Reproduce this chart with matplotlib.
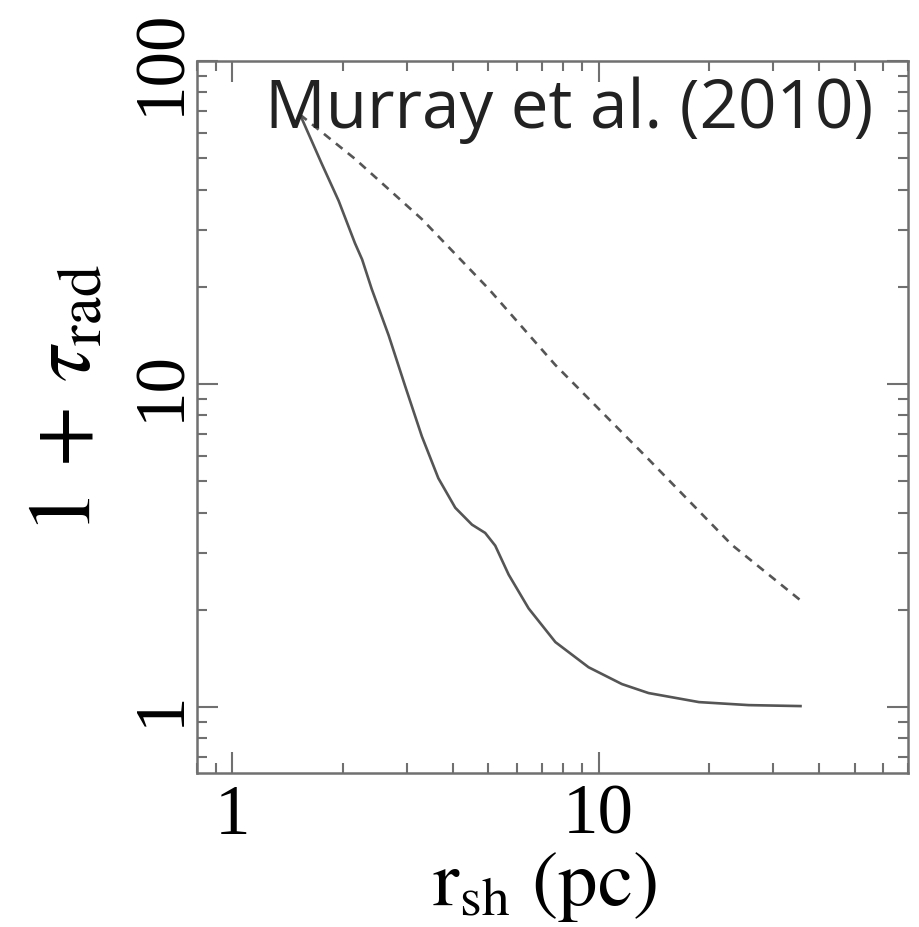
import matplotlib
matplotlib.use("Agg")
import matplotlib.pyplot as plt
from matplotlib.ticker import LogLocator, FuncFormatter, NullFormatter

# Shell radius (pc) and 1 + tau_rad for the two model curves
r_solid = [1.53, 1.75, 1.95, 2.16, 2.26, 2.40, 2.67, 2.96, 3.29, 3.65, 4.06, 4.51,
           4.90, 5.22, 5.68, 6.44, 7.62, 9.39, 11.58, 13.69, 18.8, 25.7, 35.6]
tau_solid = [68.2, 48.3, 36.9, 27.3, 24.3, 19.7, 14.15, 9.88, 6.89, 5.11, 4.14, 3.67,
             3.46, 3.16, 2.57, 2.02, 1.589, 1.328, 1.178, 1.105, 1.036, 1.014, 1.007]

r_dash = [1.53, 2.16, 3.29, 5.01, 7.62, 13.69, 23.1, 35.6]
tau_dash = [68.2, 49.8, 32.4, 19.7, 11.45, 5.85, 3.18, 2.14]

x_range = (0.8, 70)
y_range = (0.625, 100)

plt.rcParams["mathtext.fontset"] = "stix"

W, H = 919, 928
fig = plt.figure(figsize=(W / 100, H / 100), dpi=100)
ax = fig.add_axes([197 / W, 1 - 774 / H, (908 - 197) / W, (774 - 62) / H])

line_col = "#555555"
ax.plot(r_solid, tau_solid, color=line_col, lw=1.9, solid_joinstyle="round")
ax.plot(r_dash, tau_dash, color=line_col, lw=1.9, dashes=(3.2, 2.6))

ax.set_xscale("log")
ax.set_yscale("log")
ax.set_xlim(*x_range)
ax.set_ylim(*y_range)

frame_col = "#707070"
for sp in ax.spines.values():
    sp.set_color(frame_col)
    sp.set_linewidth(1.8)

fmt = FuncFormatter(lambda v, p: "%g" % v)
for axis in (ax.xaxis, ax.yaxis):
    axis.set_major_locator(LogLocator(base=10))
    axis.set_minor_locator(LogLocator(base=10, subs=range(2, 10)))
    axis.set_major_formatter(fmt)
    axis.set_minor_formatter(NullFormatter())

ax.tick_params(which="both", direction="in", top=True, right=True,
               color=frame_col, width=1.5)
ax.tick_params(which="major", length=15)
ax.tick_params(which="minor", length=7.5)
ax.tick_params(axis="x", which="major", pad=7, labelsize=51)
ax.tick_params(axis="y", which="major", pad=2, labelsize=51, labelrotation=90)
for lab in ax.get_xticklabels() + ax.get_yticklabels():
    lab.set_fontfamily("Liberation Serif")
for lab in ax.get_yticklabels():
    lab.set_verticalalignment("center")

ax.text(0.951, 0.907, "Murray et al. (2010)", transform=ax.transAxes,
        ha="right", va="baseline", fontsize=48.5, family="Open Sans", color="#222222")

fig.text(65 / W, 1 - 399 / H, r"$1\,+\,\tau_{\rm rad}$", rotation=90,
         ha="center", va="center", fontsize=64)
fig.text(544 / W, 1 - 886 / H, r"$\mathrm{r_{sh}\ (pc)}$",
         ha="center", va="center", fontsize=57)

fig.savefig("out.png", dpi=100)
